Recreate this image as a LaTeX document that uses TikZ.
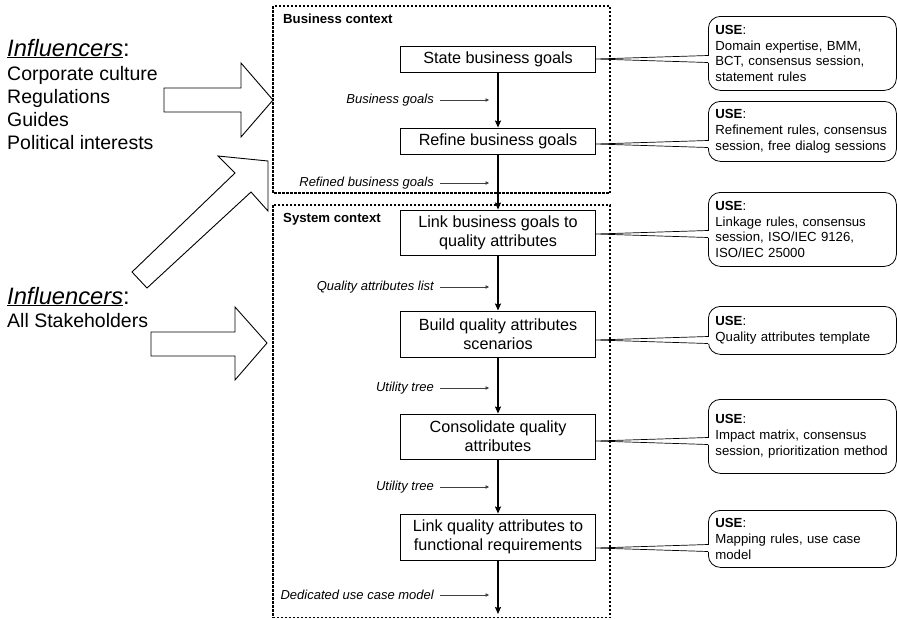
\documentclass[tikz,border=0pt]{standalone}
\usepackage{fontspec}
\setmainfont{Liberation Sans}
\usetikzlibrary{arrows.meta,calc}
\begin{document}
\begin{tikzpicture}[x=1pt,y=-1pt,
  procbox/.style={draw,line width=0.9pt,minimum width=195pt,align=center,inner sep=2pt,
    font=\fontsize{16.2}{19}\selectfont},
  usebox/.style={draw,line width=0.8pt,rounded corners=12pt,anchor=north west,
    text width=174pt,inner xsep=7pt,inner ysep=0pt,align=left,
    font=\fontsize{13.2}{15.7}\selectfont},
  flowlbl/.style={anchor=east,inner xsep=6pt,inner ysep=0pt,font=\fontsize{13}{15}\selectfont\itshape},
  flow/.style={-{Stealth[length=7pt,width=6pt,inset=1pt]},line width=1.3pt},
  feed/.style={-{Triangle[length=3.5pt,width=3.5pt]},line width=0.7pt,black!75},
  ctx/.style={line width=1.2pt,dash pattern=on 2.5pt off 1.5pt},
  ctxtitle/.style={anchor=west,inner sep=0pt,font=\fontsize{13.2}{15}\selectfont\bfseries},
  bigarrow/.style={draw,line width=0.9pt,fill=white,line join=miter},
  inftext/.style={anchor=base west,inner sep=0pt,font=\fontsize{19.5}{23}\selectfont},
  inftitle/.style={anchor=base west,inner sep=0pt,font=\fontsize{23.7}{28}\selectfont},
  pointer/.style={line width=0.7pt}
]
\useasboundingbox (0,0) rectangle (897,619);

% influencer block arrows
\draw[bigarrow] (164,88) -- (241,88) -- (241,63) -- (273,100) -- (241,137) -- (241,112) -- (164,112) -- cycle;
\draw[bigarrow] (132,272) -- (235,173) -- (218,156) -- (268,161) -- (268,211) -- (251,192) -- (147,288) -- cycle;
\draw[bigarrow] (151,332) -- (235,332) -- (235,307) -- (267,343) -- (235,380) -- (235,356) -- (151,356) -- cycle;

% influencer texts
\node[inftitle] (inf1) at (7,56) {\underline{\textit{Influencers}}:};
\node[inftext] (inf1a) at (7,80) {Corporate culture};
\node[inftext] (inf1b) at (7,103) {Regulations};
\node[inftext] (inf1c) at (7,126) {Guides};
\node[inftext] (inf1d) at (7,149) {Political interests};
\node[inftitle] (inf2) at (7,304) {\underline{\textit{Influencers}}:};
\node[inftext] (inf2a) at (7,327) {All Stakeholders};

% context frames
\draw[ctx] (273,6) rectangle (610,193);
\draw[ctx] (273,205) rectangle (610,617.5);
\node[ctxtitle] (bizt) at (283,19) {Business context};
\node[ctxtitle] (syst) at (283,219) {System context};

% process steps
\node[procbox,minimum height=26pt] (p1) at (498,59) {State business goals};
\node[procbox,minimum height=26pt] (p2) at (498,141) {Refine business goals};
\node[procbox,minimum height=45pt] (p3) at (498,232.5) {Link business goals to\\quality attributes};
\node[procbox,minimum height=46pt] (p4) at (498,334) {Build quality attributes\\scenarios};
\node[procbox,minimum height=45pt] (p5) at (498,436.5) {Consolidate quality\\attributes};
\node[procbox,minimum height=46pt] (p6) at (498,537) {Link quality attributes to\\functional requirements};
\coordinate (pend) at (498,614);

\draw[flow] (p1) -- (p2);
\draw[flow] (p2) -- (p3);
\draw[flow] (p3) -- (p4);
\draw[flow] (p4) -- (p5);
\draw[flow] (p5) -- (p6);
\draw[flow] (p6) -- (pend);

% artefacts passed between steps
\foreach \n/\y/\txt in {1/100/Business goals,2/183/Refined business goals,3/287/Quality attributes list,
    4/388/Utility tree,5/487/Utility tree,6/595/Dedicated use case model} {
  \node[flowlbl] (f\n) at (440,\y) {\txt};
  \coordinate (fe\n) at (489,\y);
  \draw[feed] (f\n.east) -- (fe\n);
}

% techniques used by each step
\node[usebox,minimum height=74pt] (u1) at (708,16) {\textbf{USE}:\\Domain expertise, BMM,\\BCT, consensus session,\\statement rules};
\node[usebox,minimum height=60pt] (u2) at (708,101) {\textbf{USE}:\\Refinement rules, consensus\\session, free dialog sessions};
\node[usebox,minimum height=74pt] (u3) at (708,192) {\textbf{USE}:\\Linkage rules, consensus\\session, ISO/IEC 9126,\\ISO/IEC 25000};
\node[usebox,minimum height=48pt] (u4) at (708,306) {\textbf{USE}:\\Quality attributes template};
\node[usebox,minimum height=74pt] (u5) at (708,399) {\textbf{USE}:\\Impact matrix, consensus\\session, prioritization method};
\node[usebox,minimum height=57pt] (u6) at (708,510) {\textbf{USE}:\\Mapping rules, use case\\model};

% callout pointers
\foreach \i/\dy in {1/0,2/3,3/1.5,4/6,5/4.5,6/11} {
  \coordinate (t\i) at ($(p\i.east)+(0,\dy)$);
  \coordinate (ua\i) at ($(u\i.west |- t\i)+(0,-3.5)$);
  \coordinate (ub\i) at ($(u\i.west |- t\i)+(0,3.5)$);
  \fill[white] ($(ua\i)+(-1,0)$) rectangle ($(ub\i)+(1,0)$);
  \draw[pointer] (ua\i) -- (t\i) -- (ub\i);
}
\end{tikzpicture}
\end{document}
